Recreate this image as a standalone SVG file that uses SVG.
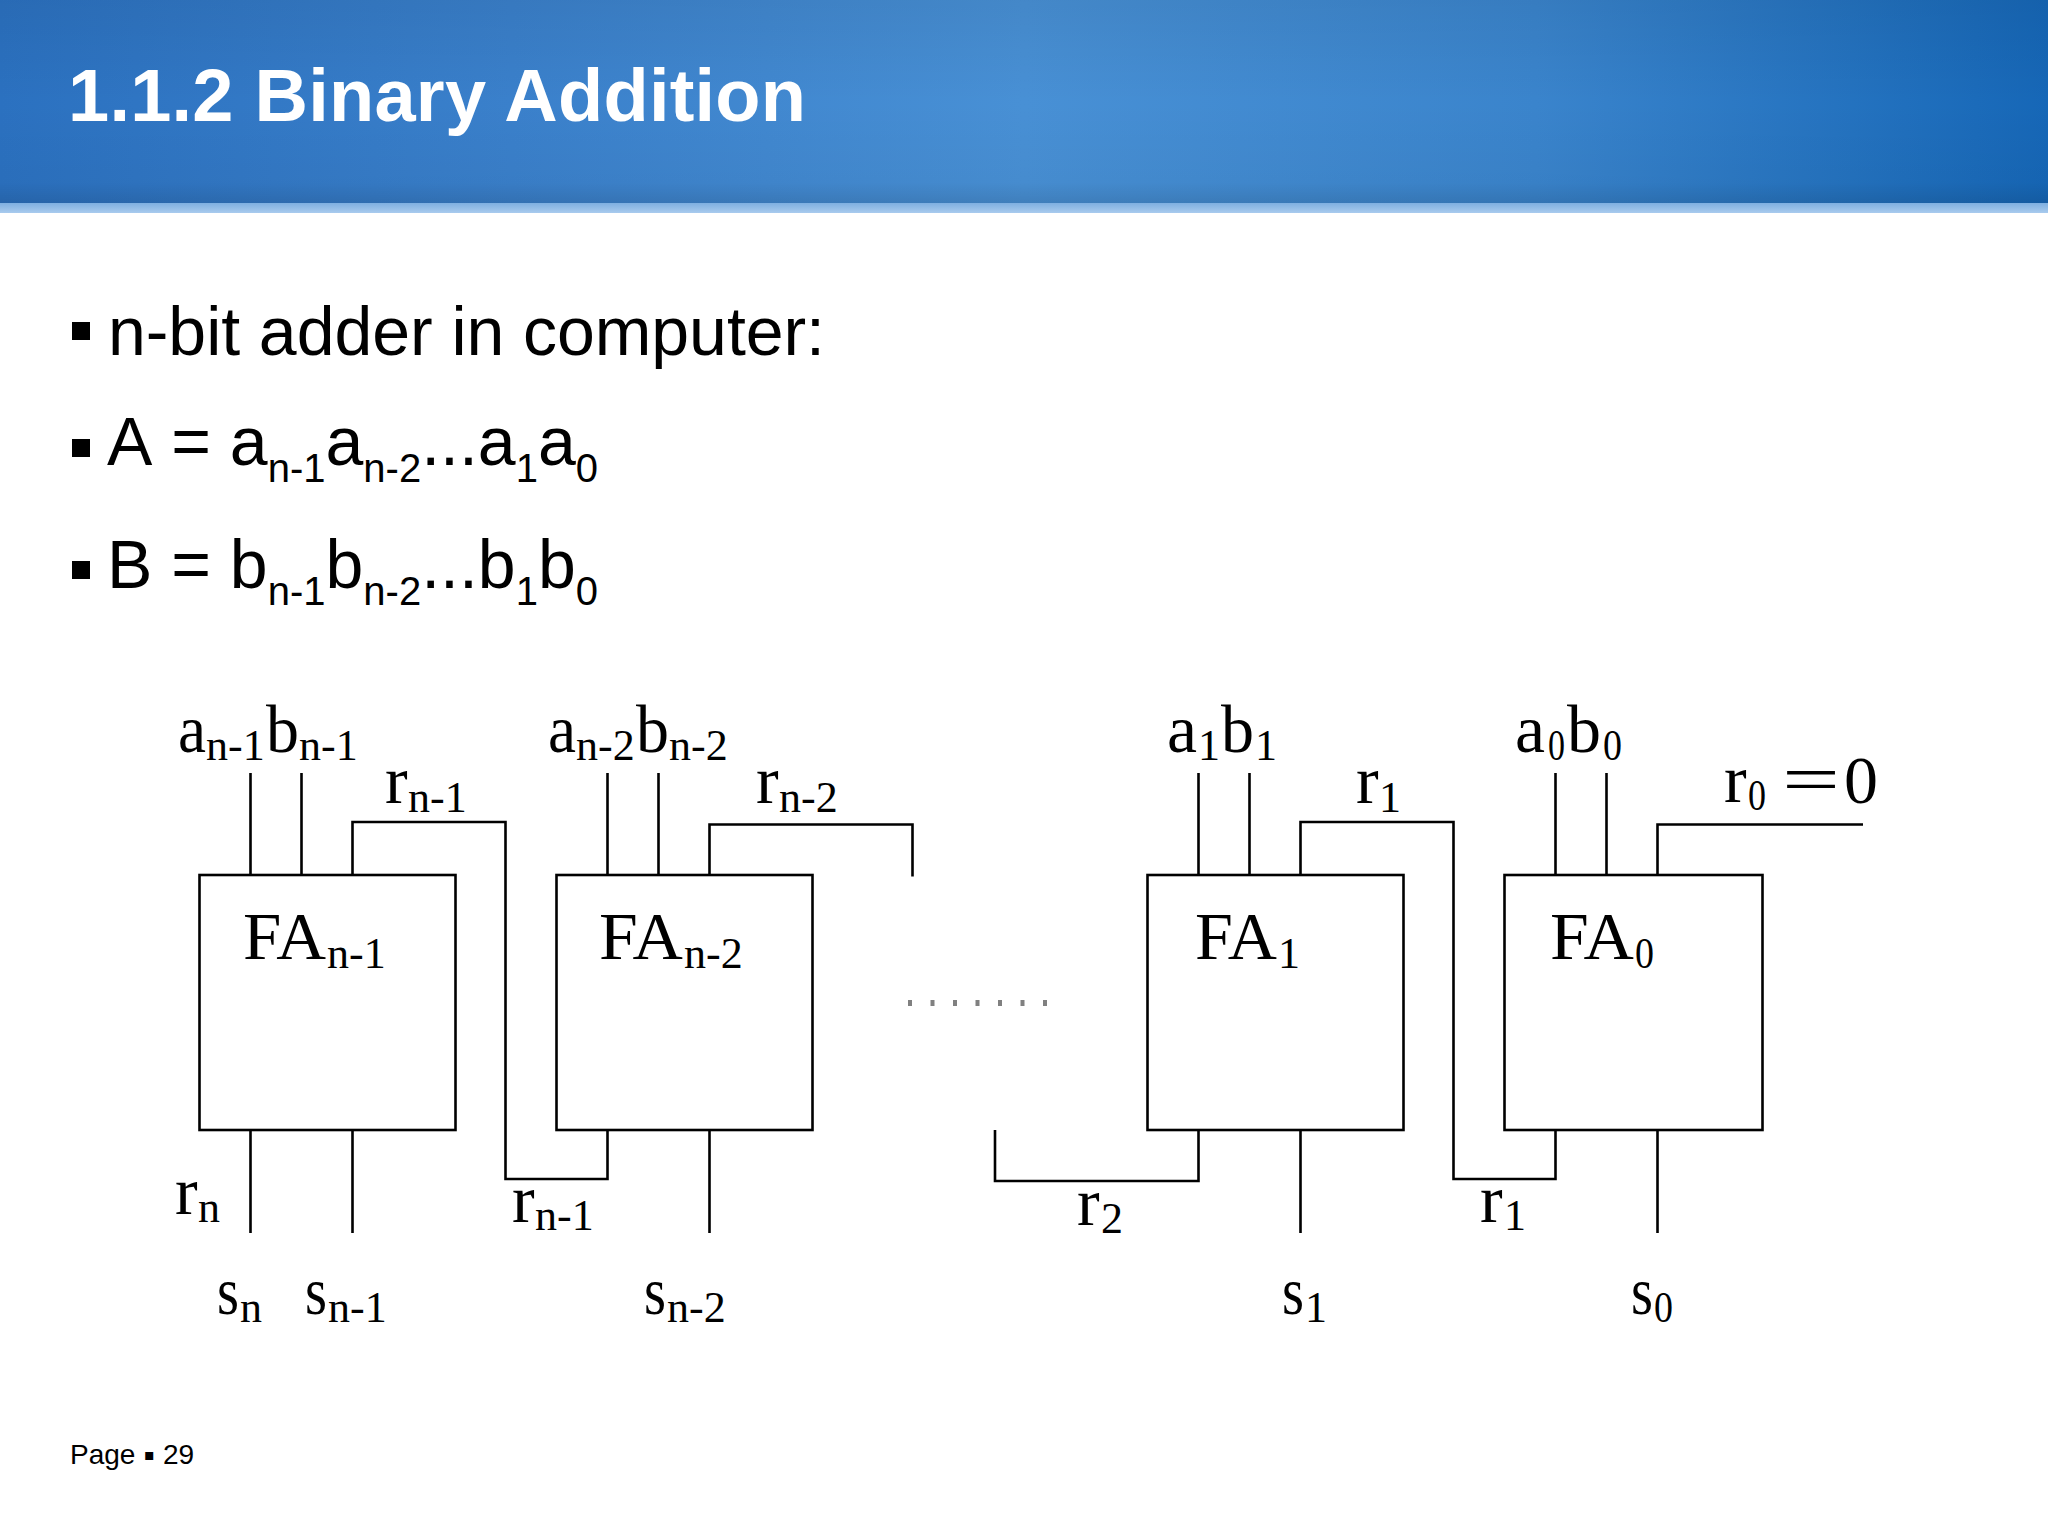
<svg xmlns="http://www.w3.org/2000/svg" width="2048" height="1536" viewBox="0 0 2048 1536">
<defs>
<linearGradient id="hdr" x1="0" y1="0" x2="1" y2="0">
<stop offset="0" stop-color="#2b71c0"/>
<stop offset="0.25" stop-color="#3a80cb"/>
<stop offset="0.5" stop-color="#4890d5"/>
<stop offset="0.75" stop-color="#3a84cc"/>
<stop offset="1" stop-color="#1667b7"/>
</linearGradient>
<linearGradient id="hdrv" x1="0" y1="0" x2="0" y2="1">
<stop offset="0" stop-color="#000" stop-opacity="0.06"/>
<stop offset="0.5" stop-color="#000" stop-opacity="0"/>
<stop offset="0.9" stop-color="#000" stop-opacity="0.03"/>
<stop offset="1" stop-color="#000" stop-opacity="0.12"/>
</linearGradient>
<linearGradient id="strip" x1="0" y1="0" x2="0" y2="1">
<stop offset="0" stop-color="#7eafe0"/>
<stop offset="1" stop-color="#a9cbee"/>
</linearGradient>
<style>
.title{font-family:"Liberation Sans",Arial,sans-serif;font-weight:bold;font-size:74px;fill:#fff}
.body{font-family:"Liberation Sans",Arial,sans-serif;font-size:68px;fill:#000;font-kerning:none}
.bs{font-size:40px}
.foot{font-family:"Liberation Sans",Arial,sans-serif;font-size:28px;fill:#000}
.dl{font-family:"Liberation Serif","Times New Roman",serif;font-size:68px;fill:#000}
.sub{font-size:44px}
.box{fill:#fff;stroke:#000;stroke-width:2.6}
.wire{fill:none;stroke:#000;stroke-width:2.6}
.dot{fill:#808080}
</style>
</defs>
<rect width="2048" height="1536" fill="#fff"/>
<g id="header">
<rect x="0" y="0" width="2048" height="203" fill="url(#hdr)"/>
<rect x="0" y="0" width="2048" height="203" fill="url(#hdrv)"/>
<rect x="0" y="203" width="2048" height="10" fill="url(#strip)"/>
<text class="title" x="68" y="121" textLength="738" lengthAdjust="spacing">1.1.2 Binary Addition</text>
</g>
<g id="bullets">
<rect x="72" y="322" width="18" height="18" fill="#000"/>
<text class="body" x="108" y="355" textLength="717" lengthAdjust="spacing">n-bit adder in computer:</text>
<rect x="72" y="439" width="18" height="18" fill="#000"/>
<text class="body" x="107" y="465">A = a<tspan class="bs" dy="17">n-1</tspan><tspan dy="-17">a</tspan><tspan class="bs" dy="17">n-2</tspan><tspan dy="-17">...a</tspan><tspan class="bs" dy="17">1</tspan><tspan dy="-17">a</tspan><tspan class="bs" dy="17">0</tspan></text>
<rect x="72" y="561" width="18" height="18" fill="#000"/>
<text class="body" x="107" y="588">B = b<tspan class="bs" dy="17">n-1</tspan><tspan dy="-17">b</tspan><tspan class="bs" dy="17">n-2</tspan><tspan dy="-17">...b</tspan><tspan class="bs" dy="17">1</tspan><tspan dy="-17">b</tspan><tspan class="bs" dy="17">0</tspan></text>
</g>
<g id="connectors">
<path class="wire" d="M250.5 773V875M301.5 773V875M607.5 773V875M658.5 773V875M1198.5 773V875M1249.5 773V875M1555.5 773V875M1606.5 773V875"/>
<path class="wire" d="M352.5 875V822H505.5V1179H607.5V1130"/>
<path class="wire" d="M709.5 875V824.5H912.5V876.5"/>
<path class="wire" d="M995 1130V1181H1198.5V1130"/>
<path class="wire" d="M1300.5 875V822H1453.5V1179H1555.5V1130"/>
<path class="wire" d="M1657.5 875V824.5H1863"/>
<path class="wire" d="M250.5 1130V1233M352.5 1130V1233M709.5 1130V1233M1300.5 1130V1233M1657.5 1130V1233"/>
</g>
<g id="fa-n-1">
<rect class="box" x="199.5" y="875" width="256" height="255"/>
<text class="dl"><tspan x="243" y="959" textLength="83" lengthAdjust="spacingAndGlyphs">FA</tspan><tspan class="sub" x="327" y="968">n-1</tspan></text>
</g>
<g id="fa-n-2">
<rect class="box" x="556.5" y="875" width="256" height="255"/>
<text class="dl"><tspan x="599" y="959" textLength="84" lengthAdjust="spacingAndGlyphs">FA</tspan><tspan class="sub" x="684" y="968">n-2</tspan></text>
</g>
<g id="fa-1">
<rect class="box" x="1147.5" y="875" width="256" height="255"/>
<text class="dl"><tspan x="1195" y="959" textLength="82" lengthAdjust="spacingAndGlyphs">FA</tspan><tspan class="sub" x="1278" y="968">1</tspan></text>
</g>
<g id="fa-0">
<rect class="box" x="1504.5" y="875" width="258" height="255"/>
<text class="dl"><tspan x="1550" y="959" textLength="84" lengthAdjust="spacingAndGlyphs">FA</tspan><tspan class="sub" x="1635" y="968" textLength="19" lengthAdjust="spacingAndGlyphs">0</tspan></text>
</g>
<g id="ellipsis">
<rect class="dot" x="908" y="1000" width="4" height="6"/>
<rect class="dot" x="930.5" y="1000" width="4" height="6"/>
<rect class="dot" x="953" y="1000" width="4" height="6"/>
<rect class="dot" x="975.5" y="1000" width="4" height="6"/>
<rect class="dot" x="998" y="1000" width="4" height="6"/>
<rect class="dot" x="1020.5" y="1000" width="4" height="6"/>
<rect class="dot" x="1043" y="1000" width="4" height="6"/>
</g>
<g id="labels">
<text class="dl"><tspan x="178" y="752" textLength="28" lengthAdjust="spacingAndGlyphs">a</tspan><tspan class="sub" x="206" y="760">n-1</tspan><tspan x="266" y="752" textLength="33" lengthAdjust="spacingAndGlyphs">b</tspan><tspan class="sub" x="299" y="760">n-1</tspan></text>
<text class="dl"><tspan x="385" y="803">r</tspan><tspan class="sub" x="408" y="812">n-1</tspan></text>
<text class="dl"><tspan x="548" y="752" textLength="28" lengthAdjust="spacingAndGlyphs">a</tspan><tspan class="sub" x="576" y="760">n-2</tspan><tspan x="636" y="752" textLength="33" lengthAdjust="spacingAndGlyphs">b</tspan><tspan class="sub" x="669" y="760">n-2</tspan></text>
<text class="dl"><tspan x="756" y="803">r</tspan><tspan class="sub" x="779" y="812">n-2</tspan></text>
<text class="dl"><tspan x="1167" y="752" textLength="30" lengthAdjust="spacingAndGlyphs">a</tspan><tspan class="sub" x="1198" y="760">1</tspan><tspan x="1221" y="752" textLength="33" lengthAdjust="spacingAndGlyphs">b</tspan><tspan class="sub" x="1255" y="760">1</tspan></text>
<text class="dl"><tspan x="1356" y="803">r</tspan><tspan class="sub" x="1379" y="812">1</tspan></text>
<text class="dl"><tspan x="1515" y="752" textLength="30" lengthAdjust="spacingAndGlyphs">a</tspan><tspan class="sub" x="1548" y="760" textLength="17" lengthAdjust="spacingAndGlyphs">0</tspan><tspan x="1567" y="752" textLength="34" lengthAdjust="spacingAndGlyphs">b</tspan><tspan class="sub" x="1603" y="760" textLength="19" lengthAdjust="spacingAndGlyphs">0</tspan></text>
<text class="dl"><tspan x="1724" y="802">r</tspan><tspan class="sub" x="1748" y="810" textLength="18" lengthAdjust="spacingAndGlyphs">0</tspan><tspan x="1782" y="802" textLength="58" lengthAdjust="spacingAndGlyphs">=</tspan><tspan x="1844" y="803">0</tspan></text>
<text class="dl"><tspan x="175" y="1214">r</tspan><tspan class="sub" x="198" y="1222">n</tspan></text>
<text class="dl"><tspan x="217" y="1314" textLength="22" lengthAdjust="spacingAndGlyphs">s</tspan><tspan class="sub" x="240" y="1322">n</tspan></text>
<text class="dl"><tspan x="305" y="1314" textLength="22" lengthAdjust="spacingAndGlyphs">s</tspan><tspan class="sub" x="328" y="1322">n-1</tspan></text>
<text class="dl"><tspan x="512" y="1222">r</tspan><tspan class="sub" x="535" y="1230">n-1</tspan></text>
<text class="dl"><tspan x="644" y="1314" textLength="22" lengthAdjust="spacingAndGlyphs">s</tspan><tspan class="sub" x="667" y="1322">n-2</tspan></text>
<text class="dl"><tspan x="1077" y="1225">r</tspan><tspan class="sub" x="1101" y="1233">2</tspan></text>
<text class="dl"><tspan x="1282" y="1314" textLength="22" lengthAdjust="spacingAndGlyphs">s</tspan><tspan class="sub" x="1305" y="1322">1</tspan></text>
<text class="dl"><tspan x="1480" y="1222">r</tspan><tspan class="sub" x="1504" y="1230">1</tspan></text>
<text class="dl"><tspan x="1631" y="1314" textLength="22" lengthAdjust="spacingAndGlyphs">s</tspan><tspan class="sub" x="1654" y="1322" textLength="19" lengthAdjust="spacingAndGlyphs">0</tspan></text>
</g>
<g id="footer">
<text class="foot"><tspan x="70" y="1464">Page</tspan><tspan x="144" y="1460" font-family="DejaVu Sans" font-size="16">▪</tspan><tspan x="163" y="1464">29</tspan></text>
</g>
</svg>
